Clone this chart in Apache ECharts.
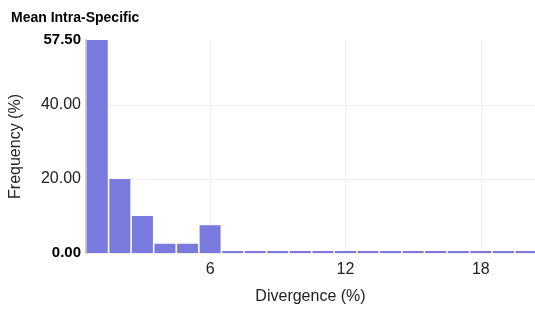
<!DOCTYPE html>
<html>
<head>
<meta charset="utf-8">
<script src="https://cdn.jsdelivr.net/npm/echarts@6/dist/echarts.min.js"></script>
<style>
html, body { margin: 0; padding: 0; background: #fff; }
#chart { width: 535px; height: 309px; }
</style>
</head>
<body>
<div id="chart"></div>
<script>
// 数据
var divergence = [1, 2, 3, 4, 5, 6, 7, 8, 9, 10, 11, 12, 13, 14, 15, 16, 17, 18, 19, 20];
var frequency = [57.5, 20, 10, 2.5, 2.5, 7.5, 0, 0, 0, 0, 0, 0, 0, 0, 0, 0, 0, 0, 0, 0];
var xTicks = [6, 12, 18];
var yMax = 57.5;

var barData = [];
for (var i = 0; i < divergence.length; i++) {
	barData.push([divergence[i], frequency[i]]);
}

var myChart = echarts.init(document.getElementById('chart'));
var options = {
	animation : false,
	title : {
		text : 'Mean Intra-Specific',
		left : 6,
		top : 6,
		textStyle : {
			fontFamily : 'Liberation Sans',
			fontSize : 14,
			fontWeight : 'bold',
			color : '#000'
		}
	},
	grid : {
		left : 86,
		right : 0,
		top : 40,
		bottom : 56,
		containLabel : false,
		outerBoundsMode : 'none'
	},
	xAxis : {
		type : 'value',
		min : 0.5,
		max : 20.4,
		name : 'Divergence (%)',
		nameLocation : 'middle',
		nameGap : 36,
		nameTextStyle : { fontFamily : 'Liberation Sans', fontSize : 16, color : '#222' },
		axisLine : { show : false },
		axisTick : { show : false, customValues : xTicks },
		axisLabel : {
			customValues : xTicks,
			margin : 9,
			fontFamily : 'Liberation Sans',
			fontSize : 16,
			color : '#222'
		},
		splitLine : { show : true, lineStyle : { color : '#efefef', width : 1 } }
	},
	yAxis : {
		type : 'value',
		min : 0,
		max : yMax,
		interval : 20,
		name : 'Frequency (%)',
		nameLocation : 'middle',
		nameGap : 62,
		nameTextStyle : { fontFamily : 'Liberation Sans', fontSize : 16, color : '#222' },
		axisLine : { show : true, lineStyle : { color : '#cccccc', width : 2 } },
		axisTick : { show : false },
		axisLabel : {
			margin : 5,
			fontFamily : 'Liberation Sans',
			fontSize : 16,
			color : '#222',
			formatter : function(v) {
				var s = v.toFixed(2);
				if (v === 0 || v === yMax) {
					return '{b|' + s + '}';
				}
				return s;
			},
			rich : {
				b : { fontFamily : 'Liberation Sans', fontSize : 15, fontWeight : 'bold', color : '#000' }
			}
		},
		splitLine : { show : true, showMaxLine : false, lineStyle : { color : '#efefef', width : 1 } }
	},
	series : [ {
		type : 'bar',
		data : barData,
		barWidth : 21,
		barMinHeight : 2,
		itemStyle : { color : '#7a7ade' }
	} ]
};
myChart.setOption(options);
</script>
</body>
</html>
